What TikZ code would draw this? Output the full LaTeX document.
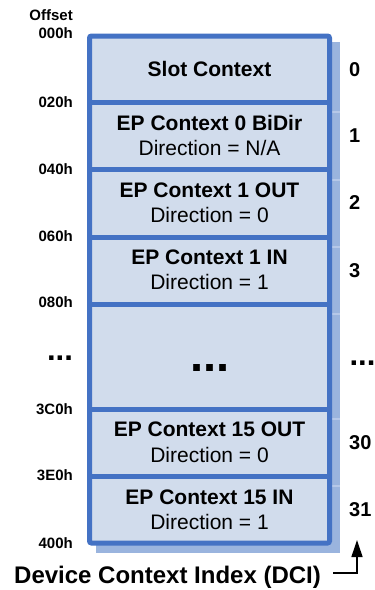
\documentclass[tikz,border=0pt]{standalone}
\usepackage{fontspec}
\setmainfont{Liberation Sans}
\usetikzlibrary{arrows.meta}
\definecolor{frameblue}{HTML}{4472C4}
\definecolor{cellfill}{HTML}{D1DCEC}
\definecolor{shadowblue}{HTML}{9AB4DE}
\definecolor{shadowline}{HTML}{B6C8E8}
\begin{document}
\begin{tikzpicture}[x=1pt,y=-1pt,
  cell/.style={rectangle, fill=cellfill, minimum width=240pt, inner sep=0pt, outer sep=0pt},
  divline/.style={draw=frameblue, line width=5pt},
  frame/.style={draw=frameblue, line width=5pt, rounded corners=2pt},
  shline/.style={draw=shadowline, line width=1.5pt},
  title/.style={font=\fontsize{21}{25}\selectfont\bfseries, inner sep=0pt, text height=14.5pt, text depth=0pt},
  dirtext/.style={font=\fontsize{21}{25}\selectfont, inner sep=0pt, text height=14.5pt, text depth=0pt},
  offs/.style={font=\fontsize{15}{18}\selectfont\bfseries, anchor=east, inner sep=0pt, text height=10.4pt, text depth=0pt},
  idx/.style={font=\fontsize{20}{24}\selectfont\bfseries, anchor=west, inner sep=0pt, text height=13.9pt, text depth=0pt},
  bigdots/.style={font=\fontsize{47}{50}\selectfont\bfseries, inner sep=0pt},
  sidedots/.style={font=\fontsize{31}{34}\selectfont\bfseries, inner sep=0pt},
]
\useasboundingbox (0,0) rectangle (375,590);
% shadow
\fill[shadowblue] (96,42) rectangle (340,553);
\foreach \yy in {112,180,247,314,419,486} {\draw[shline] (332,\yy) -- (340,\yy);}
% cells
\node[cell, minimum height=66pt]   (r0) at (209.5,69)     {};
\node[cell, minimum height=67.5pt] (r1) at (209.5,135.75) {};
\node[cell, minimum height=67.5pt] (r2) at (209.5,203.25) {};
\node[cell, minimum height=67pt]   (r3) at (209.5,270.5)  {};
\node[cell, minimum height=105pt]  (r4) at (209.5,356.5)  {};
\node[cell, minimum height=67.5pt] (r5) at (209.5,442.75) {};
\node[cell, minimum height=66.5pt] (r6) at (209.5,509.75) {};
% dividers
\draw[divline] (r0.south west) -- (r0.south east);
\draw[divline] (r1.south west) -- (r1.south east);
\draw[divline] (r2.south west) -- (r2.south east);
\draw[divline] (r3.south west) -- (r3.south east);
\draw[divline] (r4.south west) -- (r4.south east);
\draw[divline] (r5.south west) -- (r5.south east);
\draw[frame] (r0.north west) rectangle (r6.south east);
% cell texts
\node[title] (t0) at (209.5,69.5) {Slot Context};
\node[title] (t1) at (209.5,123) {EP Context 0 BiDir};
\node[dirtext] (d1) at (209.5,148) {Direction = N/A};
\node[title] (t2) at (209.5,190) {EP Context 1 OUT};
\node[dirtext] (d2) at (209.5,215) {Direction = 0};
\node[title] (t3) at (209.5,257.5) {EP Context 1 IN};
\node[dirtext] (d3) at (209.5,282.5) {Direction = 1};
\node[bigdots] (dm) at (210,368) {...};
\node[title] (t5) at (209.5,429.5) {EP Context 15 OUT};
\node[dirtext] (d5) at (209.5,455) {Direction = 0};
\node[title] (t6) at (209.5,497) {EP Context 15 IN};
\node[dirtext] (d6) at (209.5,522) {Direction = 1};
% offsets
\node[offs] (o0) at (73,15.5) {Offset};
\node[offs] (o1) at (73,33.5) {000h};
\node[offs] (o2) at (73,102) {020h};
\node[offs] (o3) at (73,169) {040h};
\node[offs] (o4) at (73,236) {060h};
\node[offs] (o5) at (73,302.5) {080h};
\node[sidedots] (od) at (60,358) {...};
\node[offs] (o6) at (73,409) {3C0h};
\node[offs] (o7) at (73,475) {3E0h};
\node[offs] (o8) at (73,543) {400h};
% indices
\node[idx] (i0) at (349,69.5) {0};
\node[idx] (i1) at (349,135.5) {1};
\node[idx] (i2) at (349,203) {2};
\node[idx] (i3) at (349,270.5) {3};
\node[sidedots] (id) at (362.5,363) {...};
\node[idx] (i30) at (349,442.5) {30};
\node[idx] (i31) at (349,509.5) {31};
% DCI label and arrow
\node[font=\fontsize{24}{28}\selectfont\bfseries, anchor=west, inner sep=0pt, text height=16.5pt, text depth=0pt] (dci) at (14,575) {Device Context Index (DCI)};
\coordinate (tip) at (357,540);
\draw[line width=1.3pt, -{Triangle[length=17pt,width=11pt]}] ([xshift=12pt,yshift=2pt]dci.east) -| (tip);
\end{tikzpicture}
\end{document}
